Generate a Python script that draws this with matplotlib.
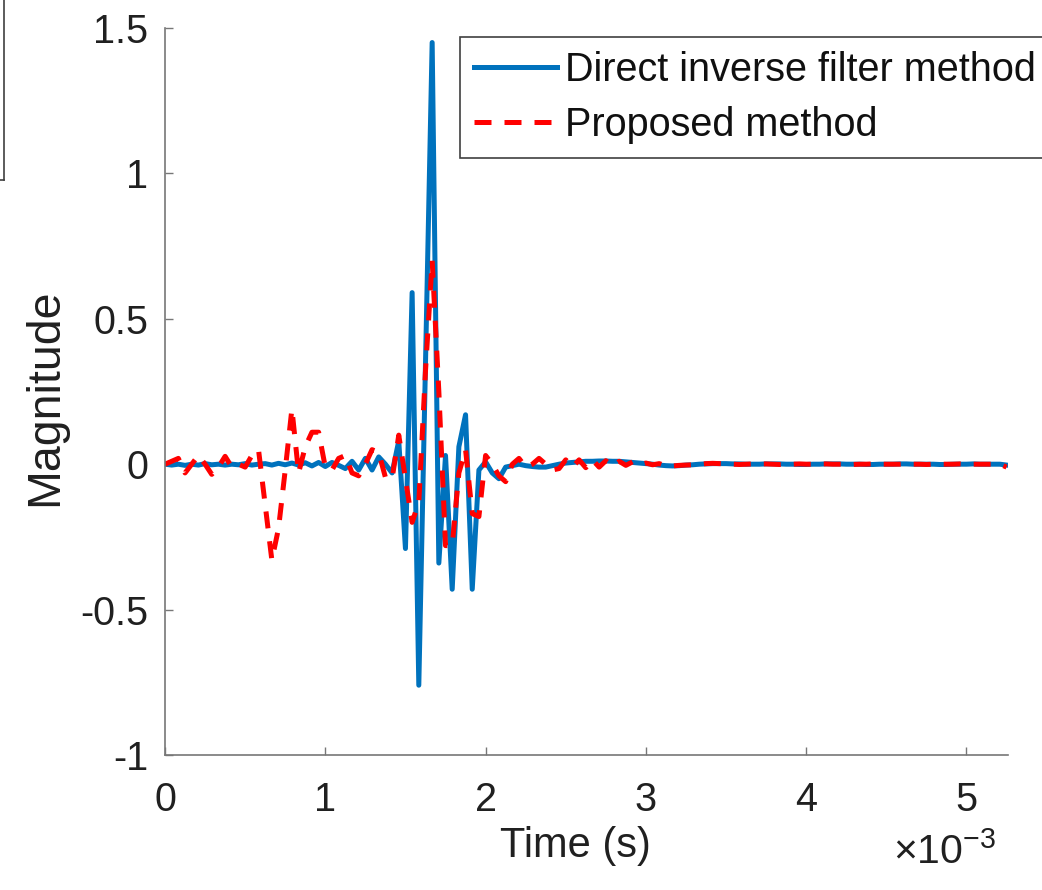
import matplotlib
matplotlib.use("Agg")
import matplotlib.pyplot as plt
from matplotlib.lines import Line2D
import numpy as np

plt.rcParams['font.family'] = ['Liberation Sans', 'DejaVu Sans']
plt.rcParams['mathtext.fontset'] = 'custom'
plt.rcParams['mathtext.rm'] = 'Liberation Sans'
plt.rcParams['mathtext.it'] = 'Liberation Sans'

# ---------------- data ----------------
fs = 24000.0  # sampling rate (Hz)

direct_inverse = [
    0.000, -0.003, 0.000, -0.004, 0.000, -0.003, 0.002, -0.002, 0.000, -0.003,
    0.000, -0.002, 0.002, -0.003, 0.000, 0.002, -0.003, 0.003, -0.002, 0.004,
    -0.003, 0.005, -0.006, 0.006, -0.008, 0.006, -0.004, -0.015, 0.010, -0.020,
    0.020, -0.020, 0.025, 0.000, -0.030, 0.080, -0.290, 0.590, -0.760, 0.345,
    1.450, -0.340, 0.030, -0.430, 0.060, 0.170, -0.430, -0.020, 0.008, -0.030,
    -0.050, -0.010, -0.005, 0.000, -0.005, -0.008, -0.010, -0.010, -0.005, 0.000,
    0.004, 0.006, 0.008, 0.010, 0.010, 0.011, 0.011, 0.010, 0.010, 0.008,
    0.006, 0.004, 0.002, 0.000, -0.003, -0.005, -0.006, -0.005, -0.003, -0.002,
    0.000, 0.001, 0.002, 0.002, 0.002, 0.001, 0.001, 0.000, 0.000, 0.000,
    0.001, 0.001, 0.001, 0.000, 0.000, -0.001, -0.001, 0.000, 0.000, 0.001,
    0.001, 0.001, 0.000, 0.000, 0.000, -0.001, -0.001, 0.000, 0.000, 0.000,
    0.001, 0.001, 0.000, 0.000, 0.000, 0.000, -0.001, -0.001, 0.000, 0.000,
    0.000, 0.001, 0.000, 0.000, 0.000, 0.000, -0.003,
]

proposed = [
    0.000, 0.010, 0.020, -0.030, 0.000, 0.030, 0.000, -0.035, -0.010, 0.027,
    -0.010, 0.000, -0.010, 0.030, 0.050, -0.140, -0.330, -0.220, -0.020, 0.190,
    -0.030, 0.060, 0.110, 0.110, -0.010, -0.020, 0.020, 0.030, -0.030, -0.040,
    0.000, 0.050, 0.040, -0.045, -0.050, 0.100, -0.050, -0.200, -0.130, 0.320,
    0.700, 0.250, -0.280, -0.280, -0.030, 0.050, -0.170, -0.180, 0.030, 0.000,
    -0.040, -0.060, 0.000, 0.020, -0.010, 0.000, 0.020, 0.000, -0.020, -0.015,
    0.015, -0.010, 0.015, -0.012, 0.015, -0.010, 0.012, -0.006, 0.010, -0.004,
    0.008, -0.002, 0.004, -0.002, 0.002, -0.006, -0.006, -0.004, -0.003, -0.002,
    0.000, 0.002, 0.003, 0.002, 0.001, 0.000, -0.001, 0.000, 0.001, 0.001,
    0.001, 0.000, -0.001, 0.000, 0.000, 0.001, 0.000, 0.000, 0.001, 0.001,
    0.000, 0.000, 0.000, -0.001, 0.000, 0.000, 0.001, 0.000, 0.000, 0.000,
    0.000, 0.001, 0.000, 0.000, -0.001, 0.000, 0.000, 0.000, 0.000, 0.001,
    0.000, 0.000, 0.000, 0.000, 0.000, 0.000, -0.010,
]

x_ticks_ms = [0, 1, 2, 3, 4, 5]
y_ticks = [-1, -0.5, 0, 0.5, 1, 1.5]
y_tick_labels = ['-1', '-0.5', '0', '0.5', '1', '1.5']
labels = ['Direct inverse filter method', 'Proposed method']

t = np.arange(len(direct_inverse)) / fs

# ---------------- figure ----------------
W, H = 1042, 890
fig = plt.figure(figsize=(W / 100, H / 100), dpi=100)
ax = fig.add_axes([165 / W, 1 - 755 / H, (1008 - 165) / W, (755 - 28) / H])

blue = '#0072BD'
red = '#FF0000'
ax.plot(t, direct_inverse, color=blue, lw=3.6, label=labels[0],
        solid_joinstyle='round')
ax.plot(t, proposed, color=red, lw=3.6, linestyle=(0, (3.4, 2.6)),
        label=labels[1], dash_joinstyle='round')

ax.set_xlim(0, 5.259e-3)
ax.set_ylim(-1, 1.5)
ax.set_xticks([v * 1e-3 for v in x_ticks_ms])
ax.set_xticklabels([str(v) for v in x_ticks_ms])
ax.set_yticks(y_ticks)
ax.set_yticklabels(y_tick_labels)

for s in ['top', 'right']:
    ax.spines[s].set_visible(False)
for s in ['left', 'bottom']:
    ax.spines[s].set_color('#777777')
    ax.spines[s].set_linewidth(1.2)

ax.tick_params(axis='both', direction='in', length=6, width=1.0,
               color='#777777', labelsize=28.5, labelcolor='#202020')
ax.tick_params(axis='x', pad=19)
ax.tick_params(axis='y', pad=12)

fig.text(45 / W, 1 - 397 / H, 'Magnitude', rotation=90, ha='center',
         va='center', fontsize=33.5, color='#202020')
fig.text(575 / W, 1 - 846 / H, 'Time (s)', ha='center', va='center',
         fontsize=30, color='#202020')
fig.text(893 / W, 1 - 864 / H, r'$\times10^{-3}$', ha='left', va='baseline',
         fontsize=29.5, color='#202020')

leg = ax.legend(loc='upper left', bbox_to_anchor=(460 / W, 1 - 37 / H),
                bbox_transform=fig.transFigure, borderaxespad=0,
                fontsize=28.5, handlelength=2.1, handletextpad=0.2,
                borderpad=0.36, labelspacing=0.42, fancybox=False,
                framealpha=1, edgecolor='#404040')
leg.get_frame().set_linewidth(1.2)
for txt in leg.get_texts():
    txt.set_color('#101010')

# fragment of a neighbouring box at top-left corner
fig.add_artist(Line2D([3.5 / W, 3.5 / W], [1.0, 1 - 180 / H],
                      transform=fig.transFigure, color='#404040', lw=1.2))
fig.add_artist(Line2D([0, 3.5 / W], [1 - 180 / H, 1 - 180 / H],
                      transform=fig.transFigure, color='#404040', lw=1.2))

fig.savefig('out.png', dpi=100)
